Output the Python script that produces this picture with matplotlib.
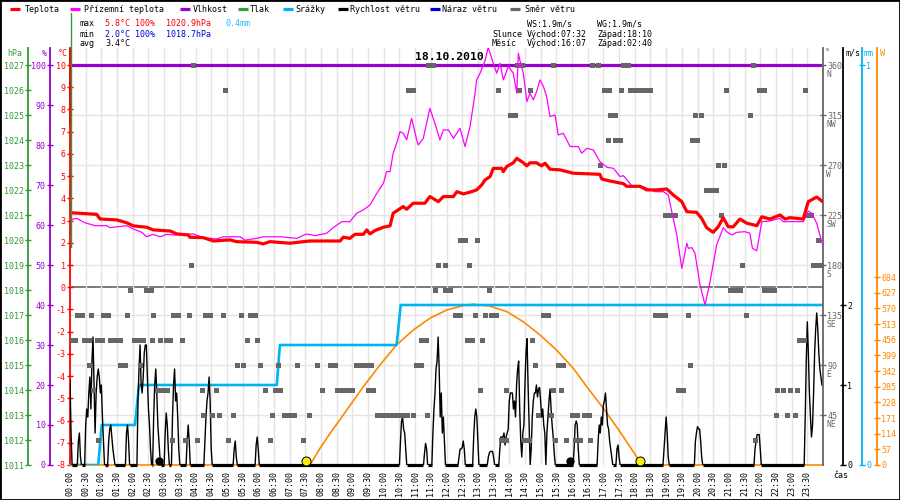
import matplotlib
matplotlib.use("Agg")
import matplotlib.pyplot as plt
import matplotlib.transforms as mtransforms
from matplotlib.lines import Line2D
from matplotlib.patches import Rectangle
import numpy as np

plt.rcParams['font.family'] = ['DejaVu Sans Mono']
plt.rcParams['font.size'] = 6
plt.rcParams['axes.unicode_minus'] = False

# ---------------- data ----------------
day = "18.10.2010"

# teplota [°C]
temp_t = [0.05, 0.85, 0.96, 1.49, 1.81, 2.02, 2.44, 2.65, 3.19, 3.40, 3.77, 3.82, 4.25, 4.57, 5.10, 5.31,
          5.95, 6.16, 6.37, 7.01, 7.44, 7.65, 8.61, 8.71, 8.92, 9.08, 9.35, 9.46, 9.56, 9.72, 9.99, 10.20,
          10.30, 10.62, 10.73, 10.94, 11.31, 11.47, 11.74, 11.90, 12.22, 12.33, 12.54, 12.80, 12.96, 13.12,
          13.23, 13.39, 13.49, 13.76, 13.81, 13.92, 14.13, 14.24, 14.45, 14.56, 14.66, 14.87, 15.03, 15.14,
          15.30, 15.62, 16.04, 16.57, 16.89, 16.95, 17.21, 17.64, 17.74, 18.17, 18.38, 18.70, 19.02, 19.23,
          19.50, 19.66, 19.97, 20.13, 20.29, 20.50, 20.66, 20.82, 20.98, 21.14, 21.35, 21.57, 21.89, 22.05,
          22.31, 22.63, 22.79, 22.95, 23.37, 23.53, 23.80, 23.96]
temp_v = [3.35, 3.28, 3.07, 3.03, 2.90, 2.76, 2.70, 2.58, 2.53, 2.40, 2.35, 2.25, 2.23, 2.08, 2.13, 2.05,
          2.02, 1.95, 2.05, 1.98, 2.05, 2.08, 2.08, 2.25, 2.20, 2.38, 2.38, 2.58, 2.40, 2.55, 2.70, 2.76,
          3.33, 3.63, 3.51, 3.78, 3.78, 4.08, 3.85, 4.08, 4.08, 4.30, 4.20, 4.30, 4.38, 4.60,
          4.83, 4.98, 5.35, 5.35, 5.20, 5.43, 5.60, 5.80, 5.60, 5.46, 5.60, 5.60, 5.46, 5.58,
          5.31, 5.28, 5.13, 5.10, 5.08, 4.87, 4.78, 4.66, 4.54, 4.54, 4.38, 4.38, 4.42, 4.15,
          3.85, 3.40, 3.37, 3.10, 2.68, 2.47, 2.72, 3.13, 2.72, 2.72, 3.07, 2.88, 2.77, 3.17,
          3.07, 3.25, 3.07, 3.13, 3.07, 3.85, 4.06, 3.88]

# přízemní teplota [°C]
feel_t = [0.00, 0.21, 0.48, 0.80, 1.17, 1.27, 1.81, 2.02, 2.29, 2.44, 2.65, 2.87, 3.08, 3.29, 3.93, 4.25,
          4.68, 4.89, 5.42, 5.58, 5.95, 6.16, 6.69, 7.23, 7.54, 7.81, 8.18, 8.39, 8.66, 8.92, 9.14, 9.35,
          9.56, 9.78, 9.99, 10.09, 10.20, 10.30, 10.41, 10.52, 10.62, 10.73, 10.89, 11.05, 11.10, 11.26,
          11.47, 11.63, 11.79, 11.90, 12.06, 12.22, 12.43, 12.59, 12.75, 12.91, 12.96, 13.07, 13.23, 13.33,
          13.49, 13.60, 13.71, 13.81, 13.97, 14.13, 14.24, 14.29, 14.34, 14.45, 14.56, 14.66, 14.77, 14.87,
          14.98, 15.09, 15.19, 15.30, 15.46, 15.56, 15.72, 15.94, 16.20, 16.31, 16.47, 16.68, 16.89, 17.11,
          17.32, 17.53, 17.64, 17.90, 18.27, 18.65, 18.91, 19.07, 19.18, 19.34, 19.50, 19.66, 19.71, 19.82,
          19.92, 20.08, 20.24, 20.40, 20.61, 20.82, 20.93, 21.09, 21.25, 21.51, 21.67, 21.75, 21.89, 22.05,
          22.31, 22.63, 22.73, 23.37, 23.53, 23.64, 23.80, 23.90, 23.99]
feel_v = [3.03, 3.10, 2.90, 2.77, 2.77, 2.68, 2.77, 2.62, 2.47, 2.27, 2.38, 2.27, 2.38, 2.35, 2.40, 2.23,
          2.17, 2.27, 2.27, 2.12, 2.20, 2.27, 2.27, 2.20, 2.40, 2.32, 2.43, 2.68, 2.95, 2.95, 3.33, 3.48,
          3.70, 4.23, 4.68, 5.20, 5.20, 6.03, 6.48, 7.00, 6.93, 6.63, 7.60, 6.63, 6.40, 6.70,
          8.05, 7.38, 6.63, 7.08, 7.08, 6.70, 7.15, 6.33, 7.23, 8.73, 9.33, 9.63, 10.20, 10.80,
          10.08, 9.63, 10.08, 9.33, 9.93, 9.63, 8.73, 10.53, 10.20, 9.63, 8.35, 8.73, 8.43, 8.80,
          9.33, 9.03, 8.58, 7.68, 7.75, 6.85, 6.93, 6.33, 6.33, 6.03, 6.25, 6.18, 5.65, 5.40,
          5.35, 4.98, 5.02, 4.57, 4.52, 4.30, 4.30, 4.15, 3.40, 2.35, 0.85, 1.98, 1.75, 1.78,
          1.53, 0.10, -0.80, 0.25, 1.90, 2.68, 2.50, 2.35, 2.47, 2.50, 2.43, 1.75, 1.64, 2.95,
          2.98, 3.10, 2.95, 2.95, 3.43, 3.33, 2.88, 2.35, 1.90]

# vlhkost [%]
hum_t = [0.0, 24.0]
hum_v = [100, 100]

# srážky, kumulativně [mm]
rain_t = [0.0, 0.90, 1.01, 2.07, 2.20, 6.59, 6.69, 10.41, 10.54, 24.0]
rain_v = [0.0, 0.0, 0.1, 0.1, 0.2, 0.2, 0.3, 0.3, 0.4, 0.4]

# sluneční záření [W]
sun_t = [0.0, 7.65, 7.97, 8.29, 8.82, 9.35, 9.88, 10.41, 10.94, 11.47, 12.01, 12.54, 12.85,
         13.39, 13.92, 14.45, 14.98, 15.51, 16.04, 16.47, 17.00, 17.53, 18.06, 18.17, 24.0]
sun_v = [0, 0, 61, 115, 200, 285, 364, 437, 491, 534, 564, 580, 585,
         578, 558, 521, 473, 418, 352, 285, 206, 121, 30, 0, 0]

# rychlost větru [m/s]: nárazy po 2 minutách, jinak bezvětří
wind_start = ["00:00", "00:16", "00:30", "01:14", "01:48", "02:10", "02:40", "03:02", "03:16", "03:44",
              "04:18", "05:14", "05:56", "10:32", "11:18", "11:34", "12:24", "12:52", "13:20", "13:42",
              "15:12", "16:04", "16:50", "17:26", "18:56", "19:56", "21:50", "23:26"]
wind_vals = [
    [1.05, 0.4],
    [0.3, 0.4, 0.1],
    [0.5, 0.7, 0.6, 0.9, 1.1, 0.7, 1.3, 1.6, 1.0, 0.4, 0.9, 1.1, 1.2, 1.1, 0.9, 1.0, 0.6, 0.3],
    [0.3, 0.45, 0.5, 0.35, 0.2, 0.1],
    [0.4, 0.5, 0.3],
    [0.8, 1.2, 1.5, 1.0, 0.9, 1.1, 1.4, 1.5, 1.5, 1.1, 0.7, 0.5, 0.2],
    [0.6, 1.0, 1.2, 0.9, 0.5, 0.3, 0.1],
    [0.4, 0.65, 0.5, 0.2],
    [0.6, 1.0, 1.2, 0.8, 0.9, 0.6, 0.2],
    [0.3, 0.5, 0.3],
    [0.3, 0.6, 0.8, 0.9, 1.1, 0.8, 0.2],
    [0.2, 0.3, 0.1],
    [0.25, 0.35, 0.2],
    [0.3, 0.55, 0.6, 0.45, 0.4, 0.2],
    [0.15, 0.27, 0.2],
    [0.4, 0.7, 0.9, 1.2, 1.3, 1.6, 1.2, 0.6, 0.9, 0.4, 0.6, 0.3],
    [0.1, 0.2, 0.2, 0.22, 0.3, 0.2],
    [0.35, 0.6, 0.7, 0.6, 0.3],
    [0.1, 0.15, 0.17, 0.17, 0.17, 0.1],
    [0.2, 0.35, 0.35, 0.35, 0.4, 0.25, 0.35, 0.4, 0.45, 0.8, 0.9, 0.9, 0.9, 0.7, 0.8, 0.6, 1.0, 1.2,
     1.3, 0.7, 0.3, 0.1, 0.4, 0.5, 1.0, 1.4, 1.58, 1.0, 0.5, 0.0, 0.2, 0.6, 0.8, 0.9, 0.9, 1.0, 0.85,
     0.95, 0.97, 0.8, 0.6, 0.7, 0.5, 0.4],
    [0.4, 0.6, 0.8, 0.95, 0.7, 0.5, 0.35, 0.15],
    [0.2, 0.5, 0.55, 0.5, 0.2],
    [0.3, 0.5, 0.4, 0.6, 0.5, 0.75, 0.8, 0.9, 0.7, 0.5, 0.45, 0.3, 0.2, 0.1],
    [0.2, 0.25, 0.1],
    [0.2, 0.4, 0.6, 0.4, 0.1],
    [0.3, 0.4, 0.48, 0.45, 0.45, 0.3, 0.1],
    [0.2, 0.3, 0.38, 0.38, 0.38, 0.2],
    [0.6, 1.3, 1.79, 1.4, 0.9, 0.6, 0.35, 0.5, 0.9, 1.4, 1.7, 1.9, 1.7, 1.4, 1.2, 1.1, 1.0],
]

# směr větru [°] -> časy [h]
d360 = [3.92, 11.41, 11.57, 14.25, 14.41, 15.39, 16.64, 16.83, 17.63, 17.78, 21.77]
d337 = [4.94, 10.77, 10.93, 13.64, 14.31, 14.66, 17.02, 17.18, 17.56, 17.86, 18.02, 18.18, 18.34,
        18.50, 20.91, 21.96, 22.12, 23.43]
d315 = [14.02, 14.18, 17.21, 17.37, 19.92, 20.11, 21.67]
d292 = [17.15, 17.37, 17.53, 19.82, 19.98]
d270 = [16.89, 20.65, 20.84]
d247 = [20.27, 20.43, 20.59]
d225 = [18.96, 19.12, 19.28, 20.75, 23.46, 23.62]
d202 = [12.43, 12.59, 12.97, 23.84]
d180 = [3.86, 11.73, 11.95, 12.72, 21.42, 23.68, 23.84, 23.97]
d157 = [1.91, 2.42, 2.58, 11.63, 11.95, 12.11, 13.35, 21.04, 21.20, 21.36, 22.12, 22.28, 22.44]
d135 = [0.22, 0.38, 0.67, 1.05, 1.21, 1.82, 2.65, 3.28, 3.44, 3.79, 4.30, 4.46, 4.88, 5.45, 5.74,
        5.90, 12.27, 12.43, 12.91, 13.23, 13.42, 13.58, 15.08, 15.24, 18.65, 18.80, 18.96, 19.69, 21.55]
d112 = [0.06, 0.16, 0.45, 0.61, 0.86, 1.02, 1.26, 1.42, 1.58, 2.04, 2.20, 2.33, 2.61, 2.87, 3.06,
        3.19, 3.57, 5.64, 5.96, 11.19, 11.35, 12.65, 12.81, 13.13, 14.73, 23.24, 23.39]
d90 = [0.61, 1.59, 1.75, 2.23, 5.32, 5.51, 6.06, 6.63, 7.24, 7.87, 8.29, 8.45, 9.11, 9.27, 9.43,
       9.59, 11.03, 11.19, 14.82, 15.55, 15.71, 19.76]
d67 = [0.73, 2.77, 2.93, 3.09, 4.21, 4.65, 6.22, 6.53, 6.69, 8.03, 8.51, 8.67, 8.83, 8.99, 9.50,
       9.66, 13.07, 13.90, 15.39, 15.65, 19.38, 19.54, 22.53, 22.73, 22.95, 23.17]
d45 = [4.24, 4.53, 4.75, 5.20, 6.44, 6.82, 6.98, 7.14, 7.62, 9.79, 9.95, 10.11, 10.26, 10.42, 10.58,
       10.74, 10.93, 11.38, 14.92, 15.33, 16.00, 16.16, 16.38, 16.54, 22.50, 22.85, 23.11]
d22 = [0.89, 3.25, 3.67, 4.05, 5.04, 6.37, 7.43, 13.74, 13.90, 14.47, 14.63, 15.46, 15.81, 16.10,
       16.25, 16.57, 21.83]
dir_rows = [(360, d360), (337.5, d337), (315, d315), (292.5, d292), (270, d270), (247.5, d247),
            (225, d225), (202.5, d202), (180, d180), (157.5, d157), (135, d135), (112.5, d112),
            (90, d90), (67.5, d67), (45, d45), (22.5, d22)]

sun_marks = [7.53, 18.17]    # východ / západ slunce
moon_marks = [2.84, 15.94]   # západ / východ měsíce (poloha v grafu)

dir_ticks = [45, 90, 135, 180, 225, 270, 315, 360]
dir_names = ['NE', 'E', 'SE', 'S', 'SW', 'W', 'NW', 'N']
w_ticks = [0, 57, 114, 171, 228, 285, 342, 399, 456, 513, 570, 627, 684]

# ---------------- colours ----------------
C_T = '#ff0000'
C_F = '#ff00ff'
C_H = '#9900cc'
C_P = '#339933'
C_R = '#00b4f0'
C_WS = '#000000'
C_WG = '#0000cc'
C_D = '#666666'
C_S = '#ff8800'
C_GRID = '#e4e4e4'

# ---------------- figure ----------------
W, H = 900, 500
L, R, B, T = 70, 823, 465, 48
fig = plt.figure(figsize=(9, 5), dpi=100)
ax = fig.add_axes([L / W, 1 - B / H, (R - L) / W, (B - T) / H])
ax.set_xlim(0, 24)
c_lim = (-8, 10.765)
d_lim = (0, 375.3)
ax.set_ylim(*c_lim)

# grid
half_hours = np.arange(0, 24, 0.5)
ax.set_xticks(half_hours)
ax.set_xticklabels(["%02d:%02d" % (int(h), int(round((h % 1) * 60))) for h in half_hours],
                   rotation=90, fontsize=6)
ax.tick_params(axis='x', length=0, pad=4)
ax.grid(axis='x', color=C_GRID, lw=1)
c_per_deg = (c_lim[1] - c_lim[0]) / d_lim[1]
for d in [45, 90, 135, 180, 225, 270, 315]:
    ax.axhline(c_lim[0] + d * c_per_deg, color=C_GRID, lw=1, zorder=0.5)
ax.axhline(0, color='#707070', lw=1.3, zorder=1)

for s in ['top', 'right', 'bottom']:
    ax.spines[s].set_visible(False)
ax.spines['left'].set_color(C_T)
ax.spines['left'].set_linewidth(1.3)
ax.set_yticks(range(-8, 11))
ax.tick_params(axis='y', colors=C_T, direction='inout', length=4, width=1, pad=1, labelsize=6)


def make_twin(side, pos_px, color, ylim):
    a = ax.twinx()
    a.set_ylim(*ylim)
    for s in ['top', 'right', 'bottom', 'left']:
        a.spines[s].set_visible(False)
    if side == 'left':
        a.yaxis.tick_left()
    else:
        a.yaxis.tick_right()
    if side is not None:
        sp = a.spines[side]
        sp.set_visible(True)
        sp.set_position(('axes', (pos_px - L) / (R - L)))
        sp.set_color(color)
        sp.set_linewidth(1.3)
        a.tick_params(axis='y', colors=color, direction='inout', length=4, width=1, pad=1,
                      labelsize=6)
    else:
        a.set_yticks([])
    return a


ax_p = make_twin('left', 28, C_P, (1011, 1027.68))
ax_p.set_yticks(range(1011, 1028))
ax_h = make_twin('left', 50, C_H, (0, 104.25))
ax_h.set_yticks(range(0, 101, 10))
ax_s = make_twin('right', 877, C_S, (0, 1517.2))
ax_s.set_yticks(w_ticks)
ax_r = make_twin('right', 862, C_R, (0, 1.0425))
ax_r.set_yticks([0, 1])
ax_w = make_twin('right', 843, C_WS, (0, 5.2125))
ax_w.set_yticks([0, 1, 2])
ax_d = make_twin('right', R, C_D, d_lim)
ax_d.set_yticks(dir_ticks)
ax_t = make_twin(None, 0, None, c_lim)

# humidity
ax_h.plot(hum_t, hum_v, color=C_H, lw=2.3)

# solar radiation
ax_s.plot(sun_t, sun_v, color=C_S, lw=1.2, clip_on=False)

# rain
ax_r.plot(rain_t, rain_v, color=C_R, lw=1.9)

# wind speed
wind_t = np.arange(0, 24, 2 / 60)
wind_v = np.zeros_like(wind_t)
for start, vals in zip(wind_start, wind_vals):
    hh, mm = map(int, start.split(':'))
    i0 = (hh * 60 + mm) // 2
    n = min(len(vals), len(wind_v) - i0)
    wind_v[i0:i0 + n] = vals[:n]
ax_w.plot(wind_t, wind_v, color=C_WS, lw=1.0)
ax_w.plot(wind_t, np.where(wind_v == 0, 0, np.nan), color=C_WS, lw=2.3, clip_on=False,
          solid_capstyle='butt')

# wind direction
for deg, times in dir_rows:
    ax_d.plot(times, [deg] * len(times), 's', color=C_D, ms=3.6, mew=0)

# direction labels: number on the tick, compass letter below it
offs = mtransforms.offset_copy(ax_d.get_yaxis_transform(), fig=fig, x=3.5, y=-9.5, units='dots')
for d, name in zip(dir_ticks, dir_names):
    ax_d.text(1.0, d, name, transform=offs, color=C_D, fontsize=5.8, ha='left', va='center')

# temperature and ground temperature on top
ax_t.plot(feel_t, feel_v, color=C_F, lw=0.9)
ax_t.plot(temp_t, temp_v, color=C_T, lw=2.3)
ax_t.plot([0, 0], [10.7, 7.4], color=C_T, lw=2.0, clip_on=False)

# sun and moon marks on the bottom line
ax_t.plot(sun_marks, [-7.8, -7.8], 'o', color='#ffee00', mec='black', mew=0.7, ms=6.5, clip_on=False)
ax_t.plot(moon_marks, [-7.8, -7.8], 'o', color='black', ms=5, clip_on=False)


# ---------------- header texts ----------------
def ftxt(x, y, s, **kw):
    kw.setdefault('ha', 'left')
    fig.text(x / W, 1 - y / H, s, va='center', fontsize=kw.pop('fontsize', 6), **kw)


legend_items = [(10, 25, C_T, 'Teplota'), (70, 84, C_F, 'Přízemní teplota'),
                (180, 193, C_H, 'Vlhkost'), (238, 250, C_P, 'Tlak'),
                (283, 295, C_R, 'Srážky'), (338, 350, C_WS, 'Rychlost větru'),
                (430, 442, C_WG, 'Náraz větru'), (510, 525, C_D, 'Směr větru')]
for x0, xt, col, lab in legend_items:
    fig.add_artist(Line2D([x0 / W, (x0 + 10) / W], [1 - 9 / H] * 2, transform=fig.transFigure,
                          color=col, lw=2.3, solid_capstyle='butt'))
    ftxt(xt, 9, lab)

ftxt(80, 24, 'max')
ftxt(105, 24, '5.8°C 100%', color=C_T)
ftxt(166, 24, '1020.9hPa', color=C_T)
ftxt(226, 24, '0.4mm', color='#22bbff')
ftxt(80, 34, 'min')
ftxt(105, 34, '2.0°C 100%', color='#0000dd')
ftxt(166, 34, '1018.7hPa', color='#0000dd')
ftxt(80, 44, 'avg')
ftxt(105, 44, '3.4°C')

ftxt(527, 24, 'WS:1.9m/s')
ftxt(597, 24, 'WG:1.9m/s')
ftxt(492, 34, 'Slunce')
ftxt(527, 34, 'Východ:07:32')
ftxt(597, 34, 'Západ:18:10')
ftxt(492, 44, 'Měsíc')
ftxt(527, 44, 'Východ:16:07')
ftxt(597, 44, 'Západ:02:40')

ftxt(415, 57, day, fontsize=8.2, fontweight='bold')

# axis names
ftxt(22, 53, 'hPa', color=C_P, ha='right')
ftxt(47, 53, '%', color=C_H, ha='right')
ftxt(68, 53, '°C', color=C_T, ha='right')
ftxt(825, 53, '°', color=C_D)
ftxt(845, 53, 'm/s', color=C_WS)
ftxt(864, 53, 'mm', color=C_R)
ftxt(880, 53, 'W', color=C_S)
ftxt(833, 476, 'čas')

# green pressure marker line on the left edge
fig.add_artist(Line2D([71 / W, 71 / W], [1 - 13 / H, 1 - 247 / H], transform=fig.transFigure,
                      color=C_P, lw=1.0))

fig.patches.append(Rectangle((0, 0), 1, 1, transform=fig.transFigure, fill=False,
                             ec='black', lw=2))

fig.savefig('out.png', dpi=100)
